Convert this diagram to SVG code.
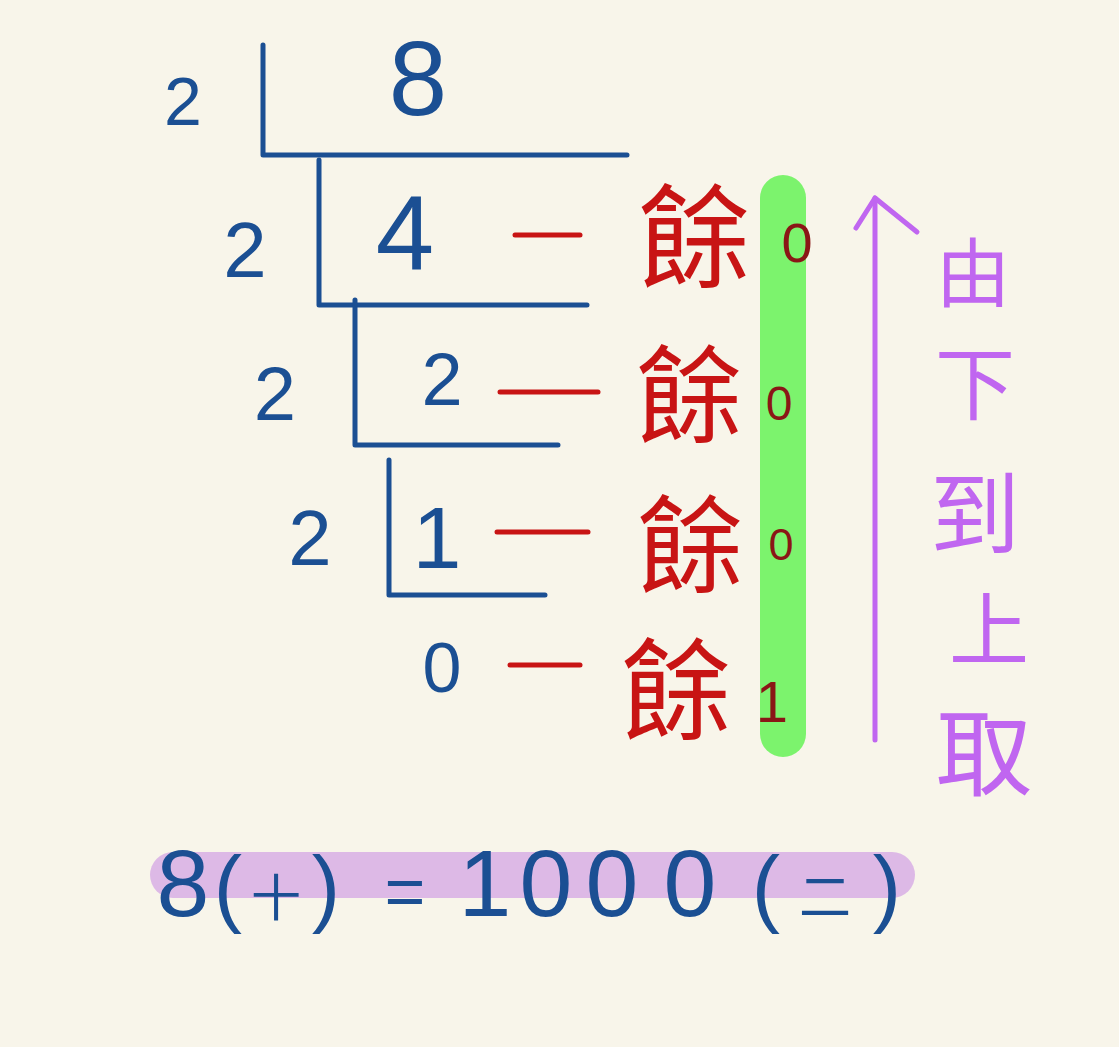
<svg xmlns="http://www.w3.org/2000/svg" width="1119" height="1047" viewBox="0 0 1119 1047">
<style>
.b{fill:#1b4f93;font-family:"Liberation Sans","DejaVu Sans",sans-serif;text-anchor:middle}
.r{fill:#c81414;font-family:"Noto Sans CJK TC","Noto Sans CJK SC",sans-serif;text-anchor:middle;dominant-baseline:central}
.d{fill:#8a1616;font-family:"Liberation Sans",sans-serif;text-anchor:middle}
.p{fill:#c066f0;font-family:"Noto Sans CJK TC","Noto Sans CJK SC",sans-serif;text-anchor:middle;dominant-baseline:central}
.br{fill:none;stroke:#1b4f93;stroke-width:5;stroke-linecap:round;stroke-linejoin:round}
.dash{stroke:#c81414;stroke-width:5;stroke-linecap:round}
.arr{fill:none;stroke:#c066f0;stroke-width:5;stroke-linecap:round;stroke-linejoin:round}
.cjk{font-family:"Noto Sans CJK TC","Noto Sans CJK SC",sans-serif}
</style>
<rect width="1119" height="1047" fill="#f8f5ea"/>
<rect x="760" y="175" width="46" height="582" rx="23" fill="#7cf36d"/>
<rect x="150" y="852" width="765" height="46" rx="23" fill="#ddb9e6"/>
<g id="row1">
<path class="br" d="M263,45 V155 H627"/>
<text class="b" x="183" y="125" font-size="68">2</text>
<text class="b" x="418" y="115" font-size="105">8</text>
</g>
<g id="row2">
<path class="br" d="M319,160 V305 H587"/>
<text class="b" x="245" y="277" font-size="78">2</text>
<text class="b" x="405" y="270" font-size="105">4</text>
<text class="r" x="694" y="230" font-size="112">餘</text>
<text class="d" x="797" y="262" font-size="56">0</text>
</g>
<g id="row3">
<path class="br" d="M355,300 V445 H558"/>
<text class="b" x="275" y="420" font-size="76">2</text>
<text class="b" x="442" y="405" font-size="74">2</text>
<text class="r" x="689" y="388" font-size="106">餘</text>
<text class="d" x="779" y="420" font-size="48">0</text>
</g>
<g id="row4">
<path class="br" d="M389,460 V595 H545"/>
<text class="b" x="310" y="565" font-size="78">2</text>
<text class="b" x="437" y="568" font-size="88">1</text>
<text class="r" x="690" y="538" font-size="106">餘</text>
<text class="d" x="781" y="560" font-size="45">0</text>
</g>
<g id="row5">
<text class="b" x="442" y="692" font-size="70">0</text>
<text class="r" x="676" y="683" font-size="110">餘</text>
<text class="d" x="772" y="722" font-size="58">1</text>
</g>
<g id="connectors">
<line class="dash" x1="515" y1="235" x2="580" y2="235"/>
<line class="dash" x1="500" y1="392" x2="598" y2="392"/>
<line class="dash" x1="497" y1="532" x2="588" y2="532"/>
<line class="dash" x1="510" y1="665" x2="580" y2="665"/>
<line class="arr" x1="875" y1="740" x2="875" y2="198"/>
<polyline class="arr" points="856,228 875,198 917,232"/>
</g>
<g id="label">
<text class="p" x="973" y="268" font-size="75">由</text>
<text class="p" x="975" y="378" font-size="80">下</text>
<text class="p" x="975" y="508" font-size="90">到</text>
<text class="p" x="989" y="624" font-size="80">上</text>
<text class="p" x="984" y="746" font-size="96">取</text>
</g>
<g id="formula">
<text class="b" font-size="85" y="916"><tspan x="183" font-size="95">8</tspan><tspan x="228">(</tspan><tspan x="276" class="cjk" font-size="50">十</tspan><tspan x="326">)</tspan><tspan x="405" font-size="70">=</tspan><tspan x="485" font-size="95">1</tspan><tspan x="546" font-size="95">0</tspan><tspan x="612" font-size="95">0</tspan><tspan x="690" font-size="95">0</tspan><tspan x="766">(</tspan><tspan x="825" class="cjk" font-size="52">二</tspan><tspan x="887">)</tspan></text>
</g>
</svg>
